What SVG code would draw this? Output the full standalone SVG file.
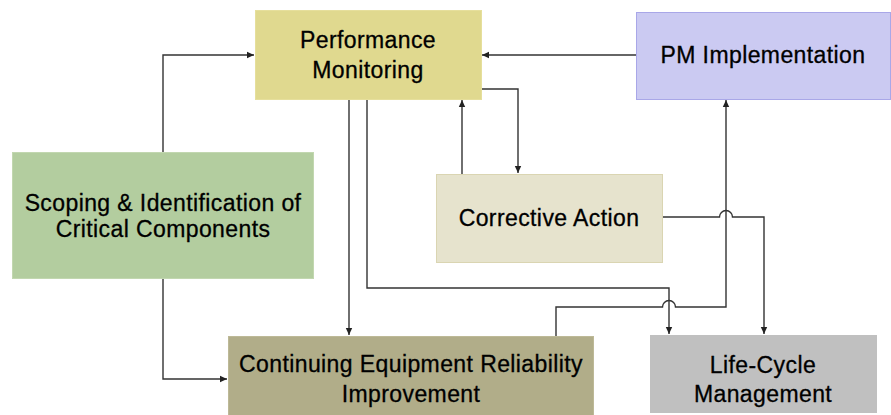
<svg xmlns="http://www.w3.org/2000/svg" width="891" height="415" viewBox="0 0 891 415">
<defs>
<marker id="arr" markerWidth="8" markerHeight="8" refX="7" refY="4" orient="auto" markerUnits="userSpaceOnUse">
<path d="M0,0.8 L7,4 L0,7.2 Z" fill="#222"/>
</marker>
<style>
.lbl{font-family:"Liberation Sans",Arial,sans-serif;font-size:23px;fill:#000;stroke:#000;stroke-width:0.3px;text-anchor:middle;letter-spacing:0.4px}
.c{fill:none;stroke:#333;stroke-width:1.4;marker-end:url(#arr)}
</style>
</defs>
<rect width="891" height="415" fill="#fff"/>
<g id="connectors">
<path class="c" d="M163,152 V55 H254"/>
<path class="c" d="M163,279 V379 H227"/>
<path class="c" d="M349,99 V335"/>
<path class="c" d="M367,99 V288 H669 V334"/>
<path class="c" d="M556,336 V307 H662.5 A6.5,6.5 0 0 1 675.5,307 H726 V100"/>
<path class="c" d="M663,217 H719.5 A6.5,6.5 0 0 1 732.5,217 H764 V334"/>
<path class="c" d="M462,174 V100"/>
<path class="c" d="M481,89 H518 V173"/>
<path class="c" d="M636,55 H482"/>
</g>
<g id="perf">
<rect x="255.5" y="10.5" width="226" height="89" fill="#e0d98f" stroke="#e6df9c"/>
<text class="lbl" x="368" y="48">Performance</text>
<text class="lbl" x="368" y="78">Monitoring</text>
</g>
<g id="pmimpl">
<rect x="636.5" y="12.5" width="254" height="87" fill="#cbcaf2" stroke="#a9a7e8"/>
<text class="lbl" x="763" y="63">PM Implementation</text>
</g>
<g id="corrective">
<rect x="436.5" y="174.5" width="226" height="88" fill="#e6e3cd" stroke="#dad5b2"/>
<text class="lbl" x="549" y="226">Corrective Action</text>
</g>
<g id="scoping">
<rect x="12.5" y="152.5" width="301" height="126" fill="#b3cd9f" stroke="#c2d7b0"/>
<text class="lbl" x="163" y="211">Scoping &amp; Identification of</text>
<text class="lbl" x="163" y="237">Critical Components</text>
</g>
<g id="continuing">
<rect x="228.5" y="336.5" width="365" height="82" fill="#b1ad89" stroke="#bdb997"/>
<text class="lbl" x="411" y="372">Continuing Equipment Reliability</text>
<text class="lbl" x="411" y="402">Improvement</text>
</g>
<g id="lifecycle">
<rect x="650" y="335" width="227" height="78" fill="#c0c0c0"/>
<text class="lbl" x="763" y="373">Life-Cycle</text>
<text class="lbl" x="763" y="402">Management</text>
</g>
</svg>
